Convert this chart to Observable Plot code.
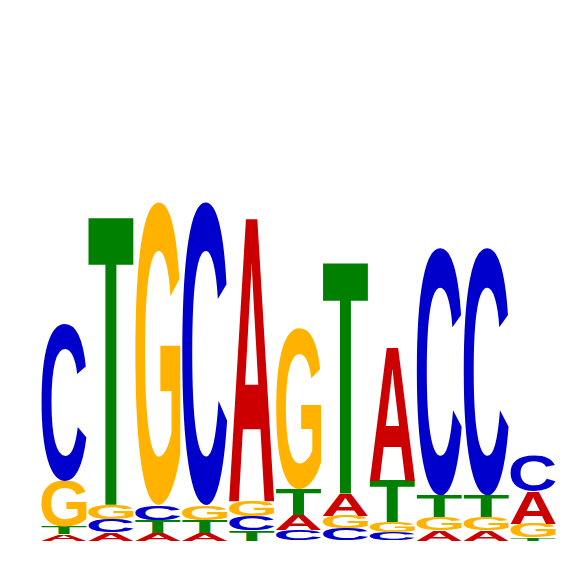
<!DOCTYPE html>
<html><head><meta charset="utf-8">
<script src="https://cdn.jsdelivr.net/npm/d3@7"></script>
<script src="https://cdn.jsdelivr.net/npm/@observablehq/plot@0.6"></script>
<style>body{margin:0;background:#fff}</style>
</head><body><div id="chart"></div>
<script>
// Sequence logo: information content (bits) per base at each position
const positions = [1, 2, 3, 4, 5, 6, 7, 8, 9, 10, 11];
const bitsA = [0.024, 0.030, 0.030, 0.030, 1.064, 0.057, 0.083, 0.502, 0.038, 0.038, 0.121];
const bitsC = [0.589, 0.050, 0.056, 1.140, 0.053, 0.038, 0.045, 0.030, 0.932, 0.932, 0.134];
const bitsG = [0.174, 0.055, 1.140, 0.056, 0.057, 0.606, 0.049, 0.038, 0.049, 0.049, 0.053];
const bitsT = [0.027, 1.080, 0.048, 0.048, 0.038, 0.098, 0.868, 0.158, 0.083, 0.083, 0.011];
const bases = ["A", "C", "G", "T"];
const baseColors = {A: "#CC0000", C: "#0000CC", G: "#FFB300", T: "#008000"};

const heights = {A: bitsA, C: bitsC, G: bitsG, T: bitsT};
const rows = [];
positions.forEach((p, i) => {
  const col = bases.map(b => ({letter: b, h: heights[b][i]})).sort((a, b) => a.h - b.h);
  let y = 0;
  for (const c of col) {
    rows.push({pos: p, letter: c.letter, y0: y, y1: y + c.h, color: baseColors[c.letter]});
    y += c.h;
  }
});

const FONT = "Liberation Sans";
const FS = 1000;
const plot = Plot.plot({
  width: 566, height: 566,
  marginLeft: 40, marginRight: 10, marginTop: 10, marginBottom: 26,
  x: {domain: [0.5, 11.5], axis: null},
  y: {domain: [0, 2], axis: null},
  color: {type: "identity"},
  marks: [
    Plot.text(rows, {
      x: "pos", y: d => (d.y0 + d.y1) / 2, text: "letter", fill: "color",
      fontSize: 100, fontFamily: FONT, fontWeight: "bold"
    })
  ]
});
document.getElementById("chart").append(plot);

// Measure tight glyph bounds by rasterising each letter and scanning its pixels
const S = 400, OX = 100, OY = 600;
const cv = document.createElement("canvas");
cv.width = 800; cv.height = 800;
const ctx = cv.getContext("2d", {willReadFrequently: true});
const metrics = {};
for (const b of bases) {
  ctx.clearRect(0, 0, cv.width, cv.height);
  ctx.font = `bold ${S}px "${FONT}"`;
  ctx.textBaseline = "alphabetic";
  ctx.textAlign = "left";
  ctx.fillStyle = "#000";
  ctx.fillText(b, OX, OY);
  const data = ctx.getImageData(0, 0, cv.width, cv.height).data;
  let minX = Infinity, maxX = -Infinity, minY = Infinity, maxY = -Infinity;
  for (let y = 0; y < cv.height; y++) {
    for (let x = 0; x < cv.width; x++) {
      if (data[(y * cv.width + x) * 4 + 3] >= 128) {
        if (x < minX) minX = x; if (x > maxX) maxX = x;
        if (y < minY) minY = y; if (y > maxY) maxY = y;
      }
    }
  }
  const k = FS / S;
  metrics[b] = {left: (minX - OX) * k, right: (maxX + 1 - OX) * k, top: (minY - OY) * k, bottom: (maxY + 1 - OY) * k};
}

// Stretch every glyph to fill its stack cell, using the plot's own scales
const xs = plot.scale("x").apply, ys = plot.scale("y").apply;
const texts = plot.querySelectorAll('g[aria-label="text"] text');
texts.forEach((el, i) => {
  const r = rows[i];
  const g = metrics[r.letter];
  const x0 = xs(r.pos - 0.5) + 1, x1 = xs(r.pos + 0.5) - 1;
  const yTop = ys(r.y1), yBot = ys(r.y0);
  const sx = (x1 - x0) / (g.right - g.left);
  const sy = (yBot - yTop) / (g.bottom - g.top);
  el.setAttribute("text-anchor", "start");
  el.setAttribute("dy", "0");
  el.setAttribute("x", "0");
  el.setAttribute("y", "0");
  el.setAttribute("font-size", String(FS));
  el.setAttribute("font-family", FONT);
  el.setAttribute("font-weight", "bold");
  el.setAttribute("transform", `translate(${x0},${yTop}) scale(${sx},${sy}) translate(${-g.left},${-g.top})`);
});
</script>
</body></html>
